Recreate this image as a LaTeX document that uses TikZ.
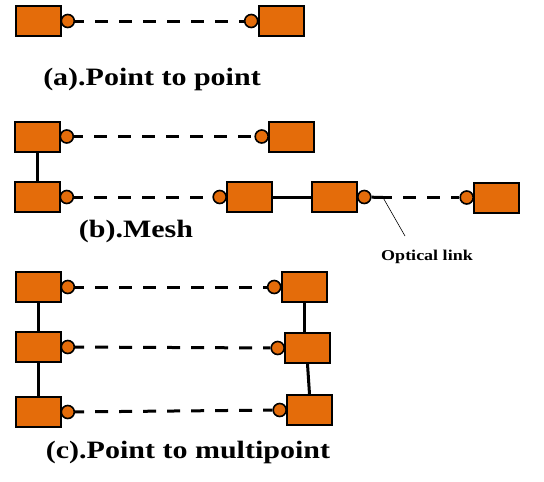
\documentclass[tikz,border=0pt]{standalone}
\usepackage{fontspec}
\setmainfont{Liberation Serif}
\usetikzlibrary{positioning}

\definecolor{unitorange}{HTML}{E46C0A}
\newcommand{\wide}[1]{\scalebox{1.2}[1]{#1}}

\begin{document}
\begin{tikzpicture}[x=1pt, y=-1pt,
    unit/.style={draw, line width=2pt, fill=unitorange,
      minimum width=45pt, minimum height=30pt, inner sep=0pt},
    port/.style={circle, draw, line width=1.6pt, fill=unitorange,
      minimum size=13pt, inner sep=0pt},
    fibre/.style={line width=3pt, dash pattern=on 13pt off 11pt, dash phase=4pt},
    wire/.style={line width=3pt},
    caption/.style={font=\bfseries\fontsize{25}{29}\selectfont, inner sep=0pt}]
  \useasboundingbox (0,0) rectangle (544,482);

  \node[unit] (a1) at (38,21) {};
  \node[unit] (a2) at (281,21) {};
  \node[port, right=-1pt of a1] (a1p) {};
  \node[port, left=-1pt of a2] (a2p) {};
  \draw[fibre] (a1p) -- (a2p);
  \node[caption] (capa) at (152,79) {\wide{(a).Point to point}};

  \node[unit] (b1) at (37,136.5) {};
  \node[unit] (b2) at (291.5,136.5) {};
  \node[unit] (b3) at (37,197) {};
  \node[unit] (b4) at (249.5,197) {};
  \node[unit] (b5) at (334.5,197) {};
  \node[unit] (b6) at (496.5,197.5) {};
  \node[port, right=-1pt of b1] (b1p) {};
  \node[port, left=-1pt of b2] (b2p) {};
  \node[port, right=-1pt of b3] (b3p) {};
  \node[port, left=-1pt of b4] (b4p) {};
  \node[port, right=-1pt of b5] (b5p) {};
  \node[port, left=-1pt of b6] (b6p) {};
  \coordinate (tap) at (383,197.5);
  \draw[fibre] (b1p) -- (b2p);
  \draw[fibre] (b3p) -- (b4p);
  \draw[wire] (b1.south) -- (b3.north);
  \draw[wire] (b4.east) -- (b5.west);
  \draw[wire] (b5p) -- (tap);
  \draw[fibre] (tap) -- (b6p);
  \node[caption] (capb) at (136,231) {\wide{(b).Mesh}};
  \node[caption, font=\bfseries\fontsize{15}{18}\selectfont] (optic) at (427,257) {\wide{Optical link}};
  \draw[line width=0.6pt] (tap) -- (405,236);

  \node[unit] (c1) at (38,287) {};
  \node[unit] (c2) at (38,347) {};
  \node[unit] (c3) at (38,412) {};
  \node[unit] (d1) at (304,287) {};
  \node[unit] (d2) at (307.5,348) {};
  \node[unit] (d3) at (309.5,410) {};
  \node[port, right=-1pt of c1] (c1p) {};
  \node[port, right=-1pt of c2] (c2p) {};
  \node[port, right=-1pt of c3] (c3p) {};
  \node[port, left=-1pt of d1] (d1p) {};
  \node[port, left=-1pt of d2] (d2p) {};
  \node[port, left=-1pt of d3] (d3p) {};
  \draw[fibre] (c1p) -- (d1p);
  \draw[fibre] (c2p) -- (d2p);
  \draw[fibre] (c3p) -- (d3p);
  \draw[wire] (c1.south) -- (c2.north);
  \draw[wire] (c2.south) -- (c3.north);
  \draw[wire] (d1.south) -- (d1.south |- d2.north);
  \draw[wire] (d2.south) -- (d3.north);
  \node[caption] (capc) at (188,452) {\wide{(c).Point to multipoint}};
\end{tikzpicture}
\end{document}
